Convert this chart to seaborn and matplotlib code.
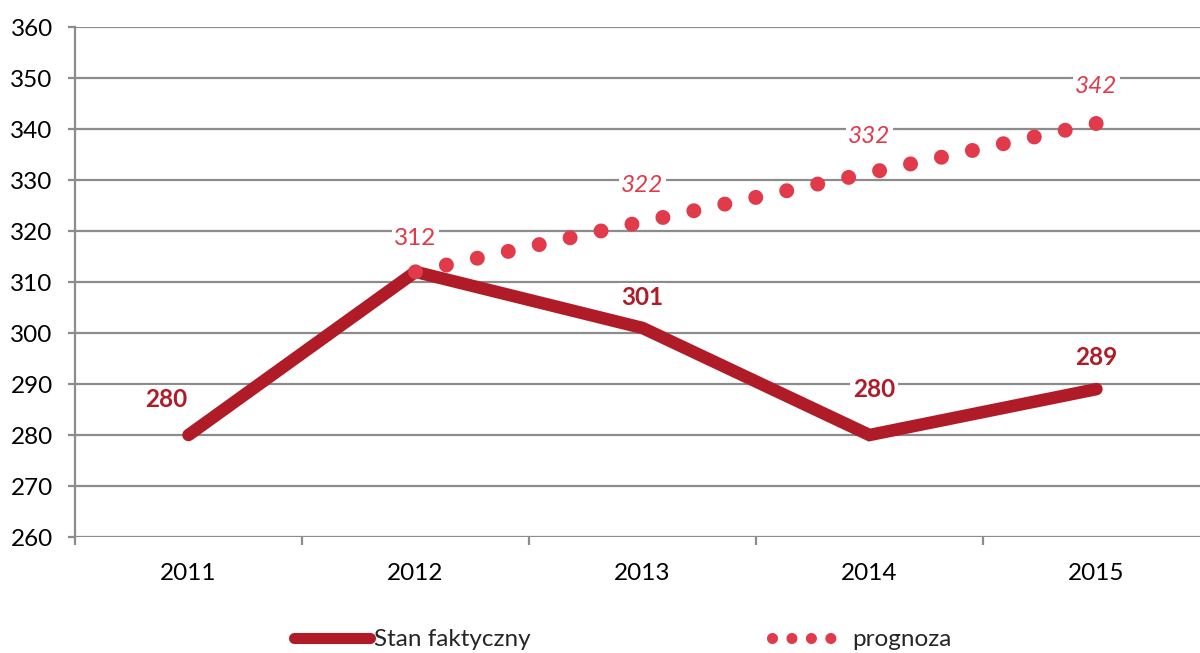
import matplotlib
matplotlib.use("Agg")
import matplotlib.pyplot as plt
from matplotlib.lines import Line2D
from matplotlib.ticker import FixedLocator, MultipleLocator
import seaborn as sns
import pandas as pd

# data
years = ["2011", "2012", "2013", "2014", "2015"]
actual = [280, 312, 301, 280, 289]
actual_labels = ["280", "312", "301", "280", "289"]
forecast_years = ["2012", "2013", "2014", "2015"]
forecast = [312, 321.8, 331.4, 341.1]
forecast_labels = ["322", "332", "342"]

SOLID = "#AF1B27"
DOTS = "#E03A4B"
GRID = "#8C8C8C"

sns.set_theme(style="white")
plt.rcParams["font.family"] = ["Lato", "DejaVu Sans"]

fig = plt.figure(figsize=(12, 6.53), dpi=100)
ax = fig.add_axes([0.0625, 0.1776, 0.9458, 0.781])

df_act = pd.DataFrame({"year": years, "value": actual})
df_fc = pd.DataFrame({"year": forecast_years, "value": forecast})

sns.lineplot(data=df_act, x="year", y="value", ax=ax, color=SOLID,
             linewidth=9, solid_capstyle="round", solid_joinstyle="miter",
             sort=False, zorder=3)
sns.lineplot(data=df_fc, x="year", y="value", ax=ax, color=DOTS,
             linewidth=10.8, linestyle=(0, (0.001, 2.11)),
             dash_capstyle="round", sort=False, zorder=4)

ax.set_xlim(-0.5, 4.5)
ax.set_ylim(260, 360)
ax.yaxis.set_major_locator(MultipleLocator(10))
ax.grid(axis="y", color=GRID, linewidth=1.6)
ax.set_axisbelow(True)
ax.set_xlabel("")
ax.set_ylabel("")

for side in ["top", "right", "bottom"]:
    ax.spines[side].set_visible(False)
ax.spines["left"].set_color(GRID)
ax.spines["left"].set_linewidth(1.6)

ax.set_xticks(range(len(years)))
ax.set_xticklabels(years)
ax.xaxis.set_minor_locator(FixedLocator([i - 0.5 for i in range(len(years) + 1)]))
ax.tick_params(axis="x", which="major", length=0, pad=19, labelsize=17.5, labelcolor="black")
ax.tick_params(axis="x", which="minor", bottom=True, length=6, width=1.6, color=GRID, direction="out")
ax.tick_params(axis="y", left=True, length=5, width=1.6, color=GRID, pad=11,
               labelsize=17.5, labelcolor="black")

box = dict(facecolor="white", edgecolor="none", pad=2)

# actual values (bold); the 2012 one sits above the forecast start
actual_offsets = [(-0.1, 7), (0, 6.5), (0, 6), (0.02, 9), (0, 6.2)]
for i, (v, lab) in enumerate(zip(actual, actual_labels)):
    dx, dy = actual_offsets[i]
    if i == 1:
        ax.text(i + dx, v + dy, lab, ha="center", va="center", fontsize=17.5,
                color=DOTS, bbox=box, zorder=5)
    else:
        ax.text(i + dx, v + dy, lab, ha="center", va="center", fontsize=17.5,
                fontweight="bold", color=SOLID, bbox=box, zorder=5)

# forecast values (italic), for 2013-2015
for i, (v, lab) in enumerate(zip(forecast[1:], forecast_labels)):
    ax.text(i + 2, v + 7.2, lab, ha="center", va="center", fontsize=17.5,
            fontstyle="italic", color=DOTS, bbox=box, zorder=5)

handles = [
    Line2D([], [], color=SOLID, linewidth=8, solid_capstyle="round"),
    Line2D([], [], color=DOTS, linewidth=8, linestyle=(0, (0.001, 1.75)),
           dash_capstyle="round"),
]
fig.legend(handles, ["Stan faktyczny", "prognoza"], loc="center",
           bbox_to_anchor=(0.519, 0.02), ncol=2, frameon=False, fontsize=17.5,
           handlelength=3.1, handletextpad=0.2, columnspacing=9.9)

fig.savefig("out.png", dpi=100)
